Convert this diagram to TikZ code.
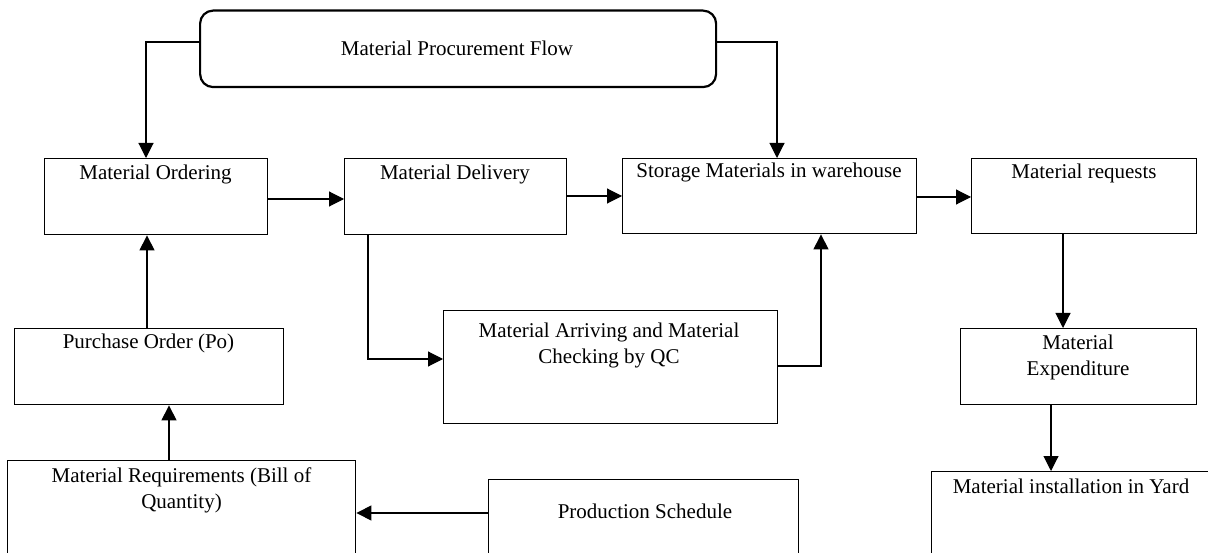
\documentclass[tikz,border=0pt]{standalone}
\usepackage{fontspec}
\setmainfont{Liberation Serif}
\usetikzlibrary{arrows.meta}
\begin{document}
\begin{tikzpicture}[x=1pt,y=-1pt,
  box/.style={draw,line width=1.4pt,rectangle,inner sep=0pt,anchor=north west},
  topbox/.style={draw,line width=2.2pt,rectangle,rounded corners=13pt,inner sep=0pt,anchor=north west},
  lbl/.style={inner sep=0pt,font=\fontsize{21}{25.5}\selectfont,align=center},
  arr/.style={line width=1.1pt,-{Triangle[length=15pt,width=15pt]}}]
\clip (0,0) rectangle (1208,553);
\fill[white] (0,0) rectangle (1208,553);
% boxes
\node[topbox,minimum width=516pt,minimum height=76.5pt] (top) at (199,9.5) {};
\node[box,minimum width=223pt,minimum height=76pt] (mo) at (44,158) {};
\node[box,minimum width=222pt,minimum height=76pt] (md) at (344,158) {};
\node[box,minimum width=294pt,minimum height=75pt] (st) at (622,158) {};
\node[box,minimum width=225pt,minimum height=75pt] (mr) at (971,158) {};
\node[box,minimum width=269pt,minimum height=76pt] (po) at (14,328) {};
\node[box,minimum width=334pt,minimum height=113pt] (ma) at (443,310) {};
\node[box,minimum width=236pt,minimum height=76pt] (me) at (960,328) {};
\node[box,minimum width=348pt,minimum height=110pt] (mq) at (7,460) {};
\node[box,minimum width=310pt,minimum height=90pt] (ps) at (488,479) {};
\node[box,minimum width=290pt,minimum height=100pt] (mi) at (931,471) {};
% labels
\node[lbl,anchor=base] (ttop) at (457,56) {Material Procurement Flow};
\node[lbl,anchor=base] (tmo) at (155.5,180) {Material Ordering};
\node[lbl,anchor=base] (tmd) at (455,180) {Material Delivery};
\node[lbl,anchor=base] (tst) at (769,178) {Storage Materials in warehouse};
\node[lbl,anchor=base] (tmr) at (1084,179) {Material requests};
\node[lbl,anchor=base] (tpo) at (148.5,349) {Purchase Order (Po)};
\node[lbl,anchor=north] (tma) at (609,323) {Material Arriving and Material\\Checking by QC};
\node[lbl,anchor=north] (tme) at (1078,335) {Material\\Expenditure};
\node[lbl,anchor=north] (tmq) at (181.5,468) {Material Requirements (Bill of\\Quantity)};
\node[lbl,anchor=base] (tps) at (645,518) {Production Schedule};
\node[lbl,anchor=base] (tmi) at (1071,493) {Material installation in Yard};
% connectors
\draw[arr] (top.west |- 0,42) -| (146,0 |- mo.north);
\draw[arr] (top.east |- 0,42) -| (777,0 |- st.north);
\draw[arr] (mo.east |- 0,199) -- (md.west |- 0,199);
\draw[arr] (md.east |- 0,196) -- (st.west |- 0,196);
\draw[arr] (st.east |- 0,197) -- (mr.west |- 0,197);
\draw[arr] (368,0 |- md.south) |- (ma.west |- 0,359);
\draw[arr] (ma.east |- 0,366) -| (821,0 |- st.south);
\draw[arr] (1063,0 |- mr.south) -- (1063,0 |- me.north);
\draw[arr] (1051,0 |- me.south) -- (1051,0 |- mi.north);
\draw[arr] (147,0 |- po.north) -- (147,0 |- mo.south);
\draw[arr] (169,0 |- mq.north) -- (169,0 |- po.south);
\draw[arr] (ps.west |- 0,513) -- (mq.east |- 0,513);
\end{tikzpicture}
\end{document}
